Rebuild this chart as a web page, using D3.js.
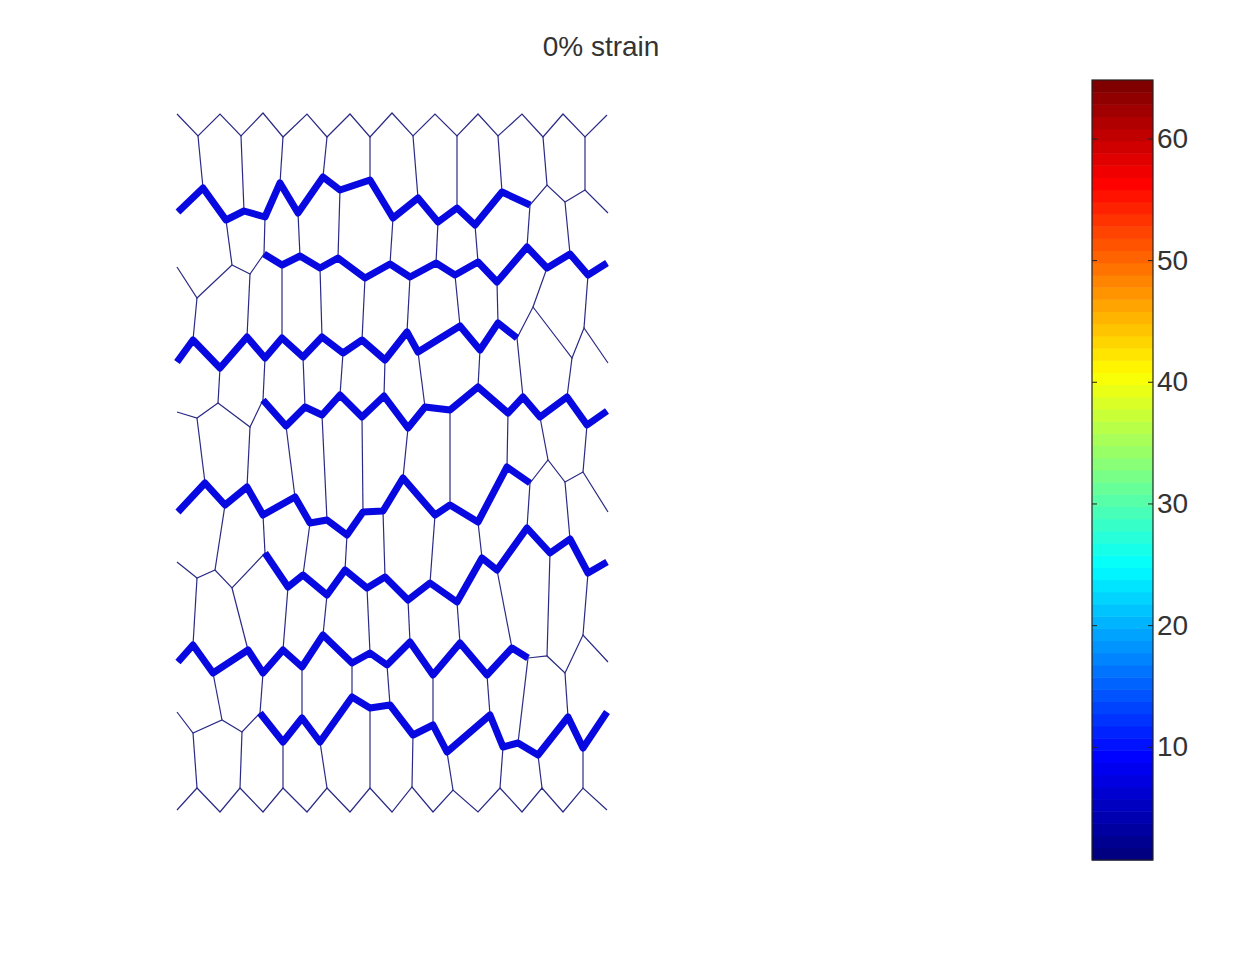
<!DOCTYPE html>
<html>
<head>
<meta charset="utf-8">
<script src="https://cdn.jsdelivr.net/npm/d3@7"></script>
<style>
  body { margin: 0; background: #fff; }
  svg { display: block; }
  .cbar .tick text { font-family: "Liberation Sans", Arial, sans-serif; font-size: 28px; fill: #333; }
  .cbar .tick line { stroke: #222; }
  .cbar .domain { display: none; }
</style>
</head>
<body>
<svg width="1260" height="953"></svg>
<script>
// cell network, one zigzag per row boundary (vertex k = half column k)
var topEdge = [[177,114],[198,136],[220,114],[241,136],[263,113],[283,137],[307,114],[327,137],[350,114],[370,137],[392,113],[413,136],[435,114],[457,136],[478,114],[498,136],[522,114],[543,137],[563,114],[585,137],[607,115]];
var b1 = [[178,212],[203,188],[226,220],[244,211],[265,217],[280,183],[298,213],[323,177],[340,190],[370,180],[393,218],[418,198],[438,222],[457,208],[475,225],[502,192],[530,205],[547,185],[565,202],[585,190],[608,213]];
var b2 = [[177,267],[197,298],[232,265],[250,274],[264,254],[282,265],[300,256],[320,268],[338,258],[365,278],[390,264],[410,277],[436,263],[455,275],[478,262],[497,282],[527,247],[547,268],[570,254],[588,275],[607,263]];
var b3 = [[177,362],[193,340],[220,368],[247,337],[265,358],[282,338],[303,357],[322,337],[343,353],[362,340],[385,360],[407,332],[418,352],[460,326],[480,350],[498,323],[517,338],[533,307],[572,358],[584,328],[608,363]];
var b4 = [[177,412],[197,418],[218,403],[250,427],[263,400],[286,426],[305,407],[322,415],[340,395],[362,417],[384,396],[408,428],[425,407],[450,410],[478,387],[508,413],[523,397],[540,417],[567,397],[587,425],[607,411]];
var b5 = [[178,512],[205,483],[225,505],[247,487],[263,515],[295,497],[310,523],[327,520],[347,535],[363,512],[383,511],[403,478],[435,515],[450,505],[478,522],[507,467],[530,483],[548,460],[565,482],[583,472],[608,512]];
var b6 = [[177,562],[197,578],[215,570],[232,588],[265,553],[288,587],[303,575],[327,595],[345,570],[367,588],[385,577],[408,600],[430,583],[457,602],[482,558],[497,570],[527,528],[550,553],[570,539],[588,573],[607,562]];
var b7 = [[178,662],[193,645],[213,673],[248,650],[263,673],[283,650],[302,667],[323,635],[352,663],[370,653],[387,665],[410,642],[433,675],[460,643],[487,675],[512,648],[528,658],[547,656],[565,673],[583,635],[608,662]];
var b8 = [[177,712],[193,733],[222,720],[242,732],[260,713],[283,742],[302,718],[320,742],[352,697],[370,708],[390,705],[413,735],[433,725],[447,752],[490,715],[503,747],[518,743],[538,755],[568,717],[583,748],[607,712]];
var bottomEdge = [[177,810],[197,788],[220,812],[240,788],[263,812],[283,788],[307,812],[327,788],[350,812],[370,788],[392,812],[412,787],[433,812],[453,790],[478,812],[500,788],[522,812],[542,788],[563,812],[583,788],[607,810]];

// vertex index range of the stressed (thick) part of b1..b8
var thickRanges = [[0,16],[4,20],[0,16],[4,20],[0,16],[4,20],[0,16],[4,20]];

// colorbar
var cbarLimits = [0.7, 64.8];
var cbarTicks = [10, 20, 30, 40, 50, 60];
var nColors = 64;
var title = "0% strain";

var svg = d3.select("svg");
var boundaries = [topEdge, b1, b2, b3, b4, b5, b6, b7, b8, bottomEdge];
var allPts = d3.merge(boundaries);

var x = d3.scaleLinear().domain(d3.extent(allPts, function(d) { return d[0]; })).range([177, 608]),
    y = d3.scaleLinear().domain(d3.extent(allPts, function(d) { return d[1]; })).range([113, 812]);

var line = d3.line()
    .x(function(d) { return x(d[0]); })
    .y(function(d) { return y(d[1]); });

// jet colormap
function jet(t) {
  function c(v) { return Math.max(0, Math.min(1, v)); }
  return d3.rgb(255 * c(1.5 - Math.abs(4 * t - 3)),
                255 * c(1.5 - Math.abs(4 * t - 2)),
                255 * c(1.5 - Math.abs(4 * t - 1)));
}

// vertical cell walls: row r joins boundary r and r+1
var walls = [];
for (var r = 0; r < boundaries.length - 1; r++) {
  var start = (r % 2 === 0) ? 1 : 2,
      stop = (r % 2 === 0) ? 19 : 18;
  for (var k = start; k <= stop; k += 2) {
    walls.push([boundaries[r][k], boundaries[r + 1][k]]);
  }
}

var net = svg.append("g");

net.selectAll(".wall")
    .data(walls)
  .enter().append("path")
    .attr("class", "wall")
    .attr("d", line)
    .attr("fill", "none")
    .attr("stroke", "#2a2a86")
    .attr("stroke-width", 1.2);

net.selectAll(".edge")
    .data(boundaries)
  .enter().append("path")
    .attr("class", "edge")
    .attr("d", line)
    .attr("fill", "none")
    .attr("stroke", "#2a2a86")
    .attr("stroke-width", 1.2);

net.selectAll(".thick")
    .data(thickRanges)
  .enter().append("path")
    .attr("class", "thick")
    .attr("d", function(d, i) { return line(boundaries[i + 1].slice(d[0], d[1] + 1)); })
    .attr("fill", "none")
    .attr("stroke", "#0808e0")
    .attr("stroke-width", 7)
    .attr("stroke-linejoin", "round");

// title
svg.append("text")
    .attr("x", 601)
    .attr("y", 56)
    .attr("text-anchor", "middle")
    .style("font-family", "Liberation Sans, Arial, sans-serif")
    .style("font-size", "28px")
    .style("fill", "#333")
    .text(title);

// colorbar
var cbX = 1092, cbW = 61;
var cy = d3.scaleLinear().domain(cbarLimits).range([860, 80]);
var step = (cbarLimits[1] - cbarLimits[0]) / nColors;
var bands = d3.range(nColors);

var cb = svg.append("g").attr("class", "cbar");

cb.selectAll("rect.band")
    .data(bands)
  .enter().append("rect")
    .attr("class", "band")
    .attr("x", cbX)
    .attr("width", cbW)
    .attr("y", function(i) { return cy(cbarLimits[0] + (i + 1) * step); })
    .attr("height", function(i) { return cy(cbarLimits[0] + i * step) - cy(cbarLimits[0] + (i + 1) * step) + 0.5; })
    .attr("fill", function(i) { return jet(i / (nColors - 1)); });

cb.append("rect")
    .attr("x", cbX)
    .attr("y", cy(cbarLimits[1]))
    .attr("width", cbW)
    .attr("height", cy(cbarLimits[0]) - cy(cbarLimits[1]))
    .attr("fill", "none")
    .attr("stroke", "#222")
    .attr("stroke-width", 1.2);

cb.append("g")
    .attr("transform", "translate(" + (cbX + cbW) + ",0)")
    .call(d3.axisRight(cy).tickValues(cbarTicks).tickSizeInner(-5).tickSizeOuter(0).tickPadding(4).tickFormat(d3.format("d")));

cb.append("g")
    .attr("transform", "translate(" + cbX + ",0)")
    .call(d3.axisLeft(cy).tickValues(cbarTicks).tickSizeInner(-5).tickSizeOuter(0).tickFormat(""));
</script>
</body>
</html>
